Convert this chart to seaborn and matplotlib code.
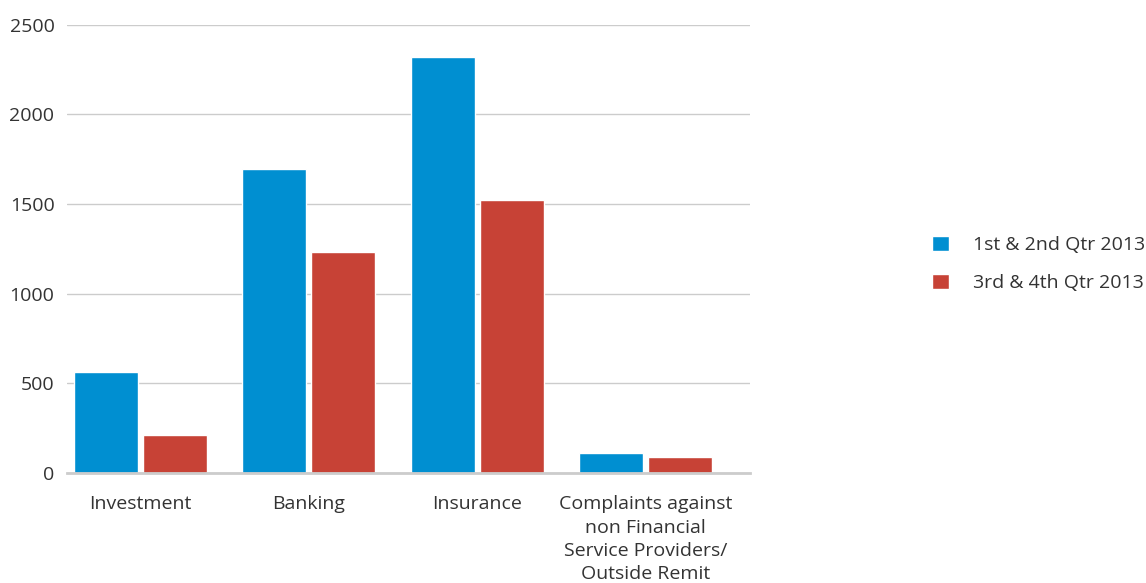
import matplotlib
matplotlib.use("Agg")
import matplotlib.pyplot as plt
import seaborn as sns
import pandas as pd

categories = [
    "Investment",
    "Banking",
    "Insurance",
    "Complaints against\nnon Financial\nService Providers/\nOutside Remit",
]
series_names = ["1st & 2nd Qtr 2013", "3rd & 4th Qtr 2013"]
first_half = [563, 1695, 2319, 111]
second_half = [212, 1232, 1522, 89]
y_ticks = [0, 500, 1000, 1500, 2000, 2500]

colors = ["#008FD1", "#C74236"]

df = pd.DataFrame({
    "category": categories * 2,
    "period": [series_names[0]] * 4 + [series_names[1]] * 4,
    "count": first_half + second_half,
})

sns.set_theme(style="white")
plt.rcParams["font.family"] = ["Open Sans", "DejaVu Sans"]

fig = plt.figure(figsize=(11.46, 5.83), dpi=100)
ax = fig.add_axes([67 / 1146, 1 - 473 / 583, (750 - 67) / 1146, (473 - 24.5) / 583])

sns.barplot(
    data=df, x="category", y="count", hue="period",
    palette=colors, width=0.82, gap=0.072, saturation=1,
    ax=ax, legend=True,
)

ax.set_xlim(-0.435, 3.62)
ax.set_ylim(0, 2500)
ax.set_yticks(y_ticks)
ax.set_yticklabels([str(v) for v in y_ticks])
ax.set_xlabel("")
ax.set_ylabel("")

ax.yaxis.grid(True, color="#cccccc", linewidth=1)
ax.set_axisbelow(True)
for side in ["top", "right", "left"]:
    ax.spines[side].set_visible(False)
ax.spines["bottom"].set_color("#cccccc")
ax.spines["bottom"].set_linewidth(2)

ax.tick_params(axis="y", length=0, pad=9, labelsize=14, labelcolor="#333333")
ax.tick_params(axis="x", length=0, pad=16, labelsize=14, labelcolor="#333333")
for lbl in ax.get_xticklabels():
    lbl.set_linespacing(1.38)
    lbl.set_horizontalalignment("center")

handles, labels = ax.get_legend_handles_labels()
ax.get_legend().remove()
fig.legend(
    handles, labels,
    loc="center left", bbox_to_anchor=(932 / 1146, 1 - 264 / 583),
    frameon=False, fontsize=14, labelcolor="#333333",
    handlelength=0.85, handleheight=0.85, handletextpad=1.25,
    labelspacing=1.0, borderpad=0, borderaxespad=0,
)

fig.savefig("out.png", dpi=100)
